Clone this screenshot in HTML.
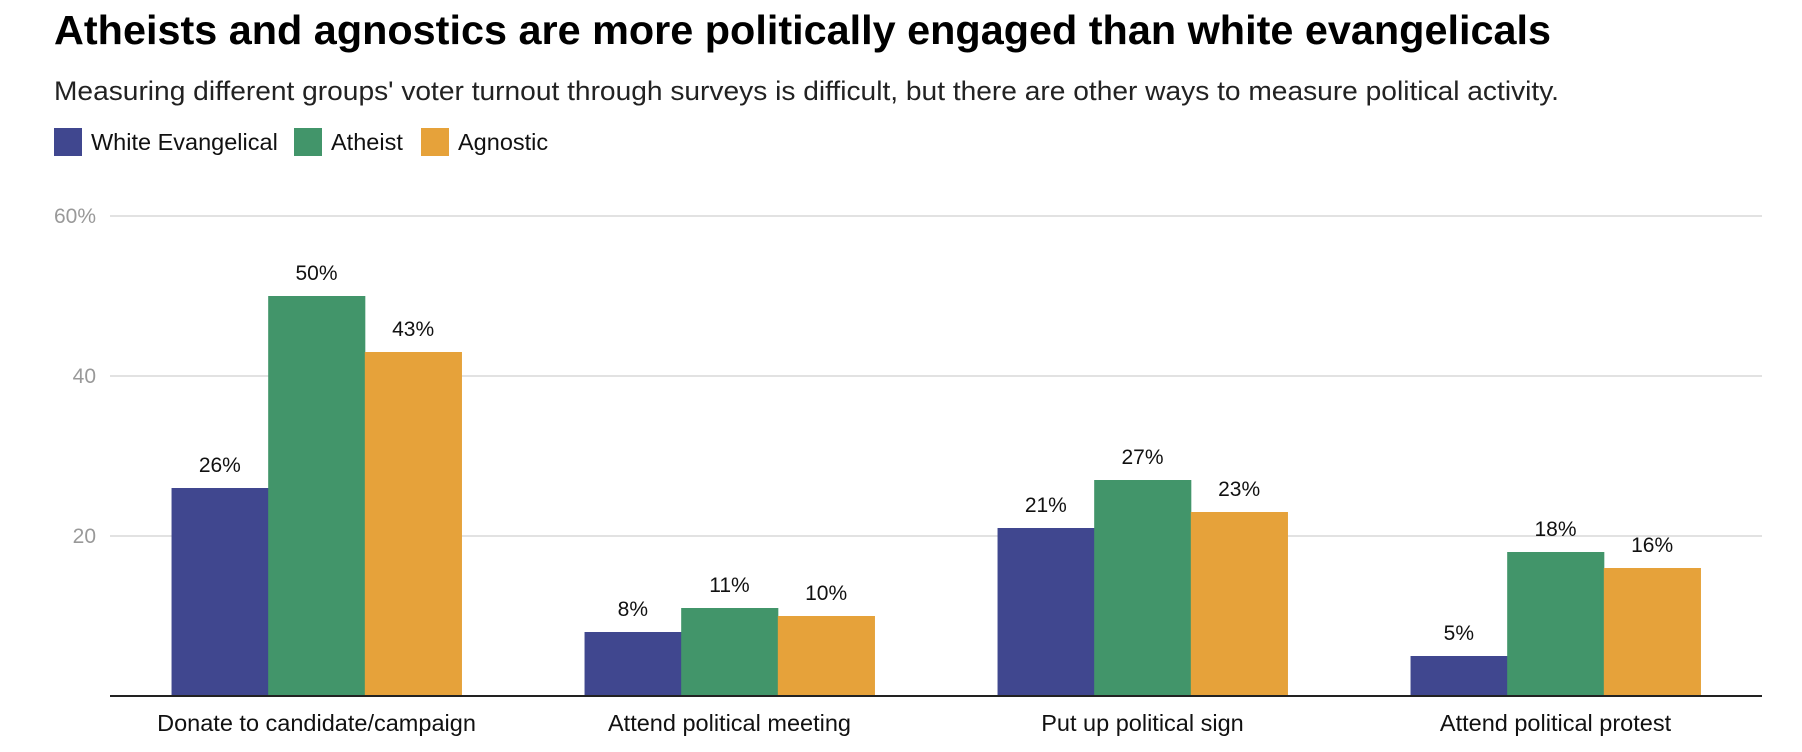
<!DOCTYPE html>
<html><head><meta charset="utf-8"><style>
body{margin:0;background:#fff;font-family:"Liberation Sans",Arial,sans-serif;}
#wrap{position:relative;width:1802px;height:752px;overflow:hidden;}
</style></head><body>
<div id="wrap">
<svg id="chart" width="1802" height="752">
<text x="54" y="44" font-size="41" font-weight="bold" fill="#000" textLength="1497" lengthAdjust="spacingAndGlyphs">Atheists and agnostics are more politically engaged than white evangelicals</text>
<text x="54" y="100" font-size="26.5" fill="#222" textLength="1505" lengthAdjust="spacingAndGlyphs">Measuring different groups' voter turnout through surveys is difficult, but there are other ways to measure political activity.</text>
<g id="legend"></g>
<g id="grid"></g>
<g id="bars"></g>
<line x1="110" x2="1762" y1="696" y2="696" stroke="#222" stroke-width="2"/>
</svg>
</div>
<script>
const categories=["Donate to candidate/campaign","Attend political meeting","Put up political sign","Attend political protest"];
const seriesNames=["White Evangelical","Atheist","Agnostic"];
const evangelical=[26,8,21,5];
const atheist=[50,11,27,18];
const agnostic=[43,10,23,16];
const yTicks=[20,40,60];
const yTickLabels=["20","40","60%"];

const colors=["#40478f","#42956a","#e6a23a"];
const series=[evangelical,atheist,agnostic];
const NS="http://www.w3.org/2000/svg";
const plotL=110,plotR=1762,baseY=696,topY=216,yMax=60;
const yScale=v=>baseY-(baseY-topY)*v/yMax;
const band=(plotR-plotL)/categories.length;
const bw=band*0.234;
const xc=i=>plotL+band*(i+0.5);
function mk(tag,attrs,parent){const e=document.createElementNS(NS,tag);for(const k in attrs)e.setAttribute(k,attrs[k]);parent.appendChild(e);return e;}
const grid=document.getElementById('grid');
yTicks.forEach((t,i)=>{
  const l=mk('line',{x1:plotL,x2:plotR,y1:yScale(t),y2:yScale(t),stroke:'#e2e2e2','stroke-width':2},grid);
  
  
  const tx=mk('text',{x:i===2?54:96,y:yScale(t)+7,'text-anchor':i===2?'start':'end','font-size':21,fill:'#999'},grid);
  tx.textContent=yTickLabels[i];
  
  
});
const bars=document.getElementById('bars');
categories.forEach((c,i)=>{
  series.forEach((s,j)=>{
    const x=xc(i)-1.5*bw+j*bw;
    const r=mk('rect',{x:x,y:yScale(s[i]),width:bw+0.5,height:baseY-yScale(s[i]),fill:colors[j]},bars);
    
    
    const t=mk('text',{x:x+bw/2,y:yScale(s[i])-16,'text-anchor':'middle','font-size':21,fill:'#111'},bars);
    t.textContent=s[i]+'%';
    
    
  });
  const t=mk('text',{x:xc(i),y:731,'text-anchor':'middle','font-size':23.5,fill:'#111'},bars);
  t.textContent=c;
  
  
});
const legend=document.getElementById('legend');
const lx=[54,294,421];
seriesNames.forEach((n,j)=>{
  const r=mk('rect',{x:lx[j],y:128,width:28,height:28,fill:colors[j]},legend);
  
  
  const t=mk('text',{x:lx[j]+37,y:150,'font-size':23.5,fill:'#111'},legend);
  t.textContent=n;
  
  
});
</script>
</body></html>
